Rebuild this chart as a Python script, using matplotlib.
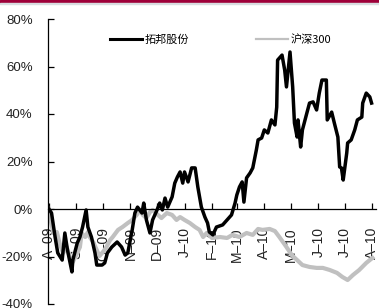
import numpy as np
import matplotlib
matplotlib.use('Agg')
from matplotlib import pyplot as plt
import matplotlib.dates as mdates
from matplotlib.ticker import FuncFormatter, MultipleLocator
from matplotlib.patches import Rectangle

plt.rcParams['font.family'] = ['Liberation Sans', 'Noto Sans CJK SC', 'DejaVu Sans']

BASE = np.datetime64('2009-08-01')

# 拓邦股份: days after 2009-08-01, cumulative return (%)
tb_days = [0, 3, 7, 10, 15, 18, 21, 26, 27, 32, 35, 38, 42, 44, 48, 52, 54, 60, 63, 66,
           71, 77, 82, 86, 89, 94, 97, 100, 105, 107, 110, 114, 117, 122, 125, 128, 131,
           134, 139, 142, 145, 148, 151, 153, 157, 161, 165, 168, 172, 176, 179, 181,
           185, 189, 196, 201, 206, 210, 212, 215, 218, 220, 223, 227, 230, 234, 236,
           240, 243, 247, 251, 255, 257, 258, 263, 266, 268, 272, 275, 277, 280, 281,
           284, 286, 291, 294, 298, 302, 305, 308, 313, 314, 319, 322, 326, 328, 330,
           332, 336, 337, 341, 345, 348, 353, 354, 358, 362, 364]
tb_vals = [0, -1.7, -11.8, -18.5, -21.5, -10.1, -17.3, -26.5, -21.5, -14.3, -11.8, -7.6,
           -0.4, -7.6, -11.8, -18.5, -23.6, -23.6, -22.7, -18.5, -16.0, -13.9, -16.0,
           -19.4, -18.5, -8.8, -1.7, 0.8, -1.7, 2.5, -4.6, -10.1, -4.6, -0.4, 2.5, -0.4,
           4.6, 0.8, 5.1, 10.9, 13.5, 15.6, 10.9, 15.6, 11.4, 17.3, 17.3, 9.3, 0.8, -3.4,
           -5.9, -9.7, -10.9, -7.6, -6.7, -4.6, -2.5, 2.5, 5.9, 9.3, 11.4, 2.9, 13.1,
           15.2, 17.3, 24.8, 29.1, 29.9, 33.3, 32.0, 37.5, 35.4, 42.9, 62.7, 64.8, 58.5,
           51.4, 66.1, 51.4, 36.2, 30.3, 37.5, 26.1, 33.3, 40.4, 44.6, 45.1, 41.7, 48.8,
           54.3, 54.3, 37.5, 40.8, 36.2, 30.3, 17.7, 17.3, 12.2, 23.6, 27.8, 29.1, 33.3,
           37.5, 38.7, 44.6, 48.8, 47.2, 44.6]

# 沪深300
hs_days = [0, 1, 5, 9, 12, 16, 20, 24, 27, 32, 35, 37, 41, 44, 46, 50, 54, 57, 61, 65,
           69, 72, 78, 83, 89, 94, 99, 103, 106, 110, 114, 117, 123, 127, 133, 139, 144,
           148, 153, 159, 165, 170, 174, 178, 184, 193, 201, 207, 215, 223, 230, 236,
           241, 249, 255, 260, 268, 274, 280, 286, 294, 302, 309, 317, 325, 331, 337,
           343, 350, 358, 365]
hs_vals = [0, -2.9, -10.1, -9.7, -14.3, -18.5, -16.0, -20.6, -22.3, -18.5, -16.0, -10.1,
           -11.8, -9.7, -11.8, -13.9, -17.3, -19.8, -18.1, -16.0, -13.1, -11.8, -8.8,
           -7.6, -5.9, -4.6, -2.5, -0.4, -2.5, -3.8, -1.3, -0.4, -2.5, -3.8, -1.7, -2.5,
           -4.6, -3.4, -4.6, -5.9, -7.6, -8.8, -11.8, -10.1, -12.2, -11.8, -12.2, -10.9,
           -11.8, -10.1, -10.9, -8.4, -8.8, -8.4, -9.3, -11.8, -16.0, -19.4, -21.5,
           -23.6, -24.4, -24.8, -24.8, -25.7, -26.9, -28.6, -29.9, -27.8, -25.7, -22.7,
           -20.6]

tb_dates = BASE + np.array(tb_days).astype('timedelta64[D]')
hs_dates = BASE + np.array(hs_days).astype('timedelta64[D]')

fig = plt.figure(figsize=(3.79, 3.08), dpi=100)
# header strip
fig.patches.append(Rectangle((0, 1 - 2.7 / 308), 1, 2.7 / 308,
                             transform=fig.transFigure, color='#9e0039'))
fig.patches.append(Rectangle((0, 1 - 4.2 / 308), 1, 1.5 / 308,
                             transform=fig.transFigure, color='#d8dde0'))

ax = fig.add_axes([48 / 379, 4 / 308, 328 / 379, 285 / 308])
ax.plot(hs_dates, hs_vals, color='#c0c0c0', linewidth=3.0, label='沪深300', zorder=2)
ax.plot(tb_dates, tb_vals, color='black', linewidth=2.5, label='拓邦股份', zorder=3)

ax.set_ylim(-40, 80)
ax.set_xlim(BASE - np.timedelta64(1, 'D'), BASE + np.timedelta64(369, 'D'))
ax.yaxis.set_major_locator(MultipleLocator(20))
ax.yaxis.set_major_formatter(FuncFormatter(lambda v, p: f'{v:.0f}%'))

ax.xaxis.set_major_locator(mdates.MonthLocator())
ax.xaxis.set_major_formatter(FuncFormatter(
    lambda v, p: mdates.num2date(v).strftime('%b')[0] + '–' + mdates.num2date(v).strftime('%y')))

for s in ['top', 'right']:
    ax.spines[s].set_visible(False)
ax.spines['bottom'].set_position(('data', 0))
ax.spines['left'].set_linewidth(0.9)
ax.spines['bottom'].set_linewidth(0.9)

ax.tick_params(axis='y', direction='in', length=4, width=0.9, pad=11, labelsize=9.5,
               labelcolor='#222222')
ax.tick_params(axis='x', direction='in', length=4, width=0.9, pad=13, labelsize=10,
               labelrotation=90, labelcolor='#222222')
for lab in ax.get_xticklabels():
    lab.set_va('top')

handles, labels = ax.get_legend_handles_labels()
leg = ax.legend(handles[::-1], labels[::-1], ncol=2, frameon=False,
                loc='center left', bbox_to_anchor=(104 / 379, 1 - 40 / 308),
                bbox_transform=fig.transFigure, borderpad=0, handlelength=2.9,
                handletextpad=0.25, columnspacing=6.0,
                prop={'family': ['Noto Sans CJK SC', 'DejaVu Sans'], 'size': 8})
leg.get_lines()[0].set_linewidth(2.2)
leg.get_lines()[1].set_linewidth(1.6)

fig.savefig('out.png', dpi=100)
